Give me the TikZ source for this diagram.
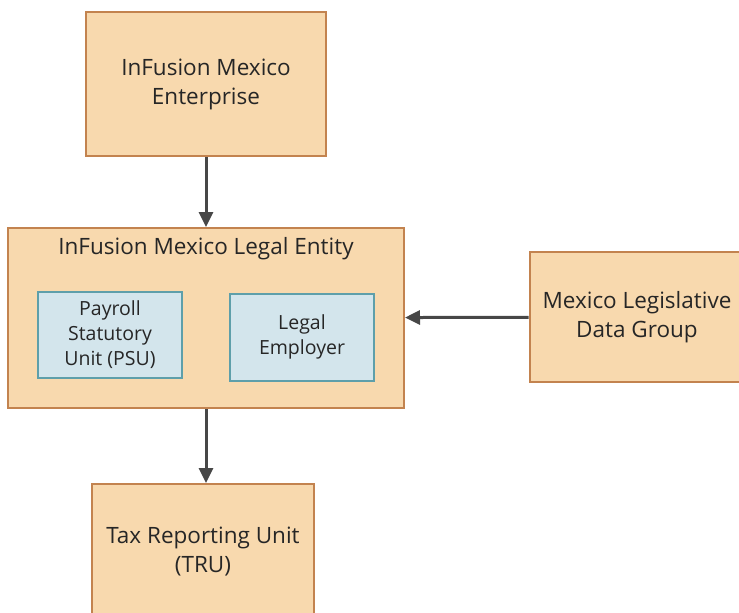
\documentclass[tikz,border=0pt]{standalone}
\usepackage{fontspec}
\setmainfont{Open Sans}
\usepackage{tikz}
\usetikzlibrary{arrows.meta,positioning}

\definecolor{boxfill}{HTML}{F8D9AE}
\definecolor{boxline}{HTML}{C3834F}
\definecolor{unitfill}{HTML}{D3E5EC}
\definecolor{unitline}{HTML}{5E9FAA}
\definecolor{arrowgray}{HTML}{474747}

\begin{document}
\begin{tikzpicture}[
    x=1pt, y=-1pt,
    every node/.style={align=center, inner sep=0pt, font=\fontsize{22.5}{29}\selectfont, text=black!85},
    orgbox/.style={draw=boxline, fill=boxfill, line width=2pt},
    unitbox/.style={draw=unitline, fill=unitfill, line width=2pt, font=\fontsize{19.5}{25}\selectfont},
    arrow/.style={-{Triangle[length=15pt,width=14pt]}, line width=3pt, draw=arrowgray}
]
\useasboundingbox (0,0) rectangle (739,613);
\node (ent) [orgbox, minimum width=240, minimum height=144] at (206,84) {InFusion Mexico\\Enterprise};
\node (le) [orgbox, minimum width=396, minimum height=180] at (206,318) {};
\node (letitle) [below=10pt of le.north] {InFusion Mexico Legal Entity};
\node (psu) [unitbox, minimum width=144, minimum height=86] at (110,335) {Payroll\\Statutory\\Unit (PSU)};
\node (emp) [unitbox, minimum width=144, minimum height=87] at (302,337) {Legal\\Employer};
\node (ldg) [orgbox, minimum width=215, minimum height=130] at (637,317) {Mexico Legislative\\Data Group};
\node (tru) [orgbox, minimum width=222, minimum height=136] at (203,552) {Tax Reporting Unit\\(TRU)};
\draw[arrow] (ent) -- (le);
\draw[arrow] (le.south) -- (le.south |- tru.north);
\draw[arrow] (ldg) -- (le);
\end{tikzpicture}
\end{document}
